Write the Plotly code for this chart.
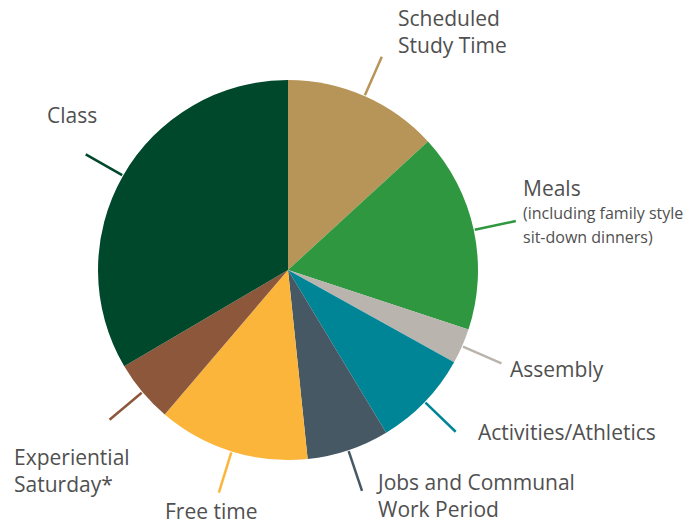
import math
import plotly.graph_objects as go

# Data (clockwise from 12 o'clock), share of week in percent (estimated)
labels = ["Scheduled Study Time", "Meals", "Assembly", "Activities/Athletics",
          "Jobs and Communal Work Period", "Free time", "Experiential Saturday*", "Class"]
values = [13.2, 16.9, 3.0, 8.3, 7.0, 12.9, 5.3, 33.5]
colors = ["#B79558", "#2E9740", "#BAB4AE", "#008597",
          "#475865", "#FBB53B", "#8C573B", "#00482B"]

# Label text shown next to each slice
label_text = ["Scheduled<br>Study Time", "Meals", "Assembly", "Activities/Athletics",
              "Jobs and Communal<br>Work Period", "Free time", "Experiential<br>Saturday*", "Class"]
meals_note = ["(including family style", "sit-down dinners)"]

W, H = 699, 525
OFF = 8  # page offset of the figure inside the browser window
CX, CY, R = 288 - OFF, 270 - OFF, 190

def px_x(x):
    return (x - OFF) / W

def px_y(y):
    return 1 - (y - OFF) / H

fig = go.Figure(go.Pie(
    labels=labels, values=values, sort=False, direction="clockwise", rotation=0,
    marker=dict(colors=colors, line=dict(width=0)),
    textinfo="none", showlegend=False,
    domain=dict(x=[(CX - R) / W, (CX + R) / W], y=[(H - CY - R) / H, (H - CY + R) / H]),
))

# Leader lines at slice mid-angles
total = sum(values)
cum = 0
shapes = []
for v, c in zip(values, colors):
    mid = (cum + v / 2) / total * 2 * math.pi
    cum += v
    r0, r1 = R + 1, R + 43
    x0 = (CX + r0 * math.sin(mid)) / W
    y0 = 1 - (CY - r0 * math.cos(mid)) / H
    x1 = (CX + r1 * math.sin(mid)) / W
    y1 = 1 - (CY - r1 * math.cos(mid)) / H
    shapes.append(dict(type="line", xref="paper", yref="paper", x0=x0, y0=y0, x1=x1, y1=y1,
                       line=dict(color=c, width=2.5)))

# Label placement (window pixel anchors: left x, vertical centre y)
label_pos = [(396, 31), (521, 188), (508, 369), (476, 432),
             (374, 495), (163, 511), (12, 470), (45, 115)]
font = dict(family="Open Sans", size=21, color="#505050")
ann = []
for t, (px, py) in zip(label_text, label_pos):
    ann.append(dict(text=t, x=px_x(px), y=px_y(py), xref="paper", yref="paper",
                    xanchor="left", yanchor="middle", showarrow=False, align="left", font=font))
for t, py in zip(meals_note, [213, 237]):
    ann.append(dict(text=t, x=px_x(521), y=px_y(py), xref="paper", yref="paper",
                    xanchor="left", yanchor="middle", showarrow=False, align="left",
                    font=dict(family="Open Sans", size=16, color="#505050")))

fig.update_layout(width=W, height=H, margin=dict(l=0, r=0, t=0, b=0),
                  paper_bgcolor="white", plot_bgcolor="white",
                  shapes=shapes, annotations=ann)
fig.write_html("out.html")
